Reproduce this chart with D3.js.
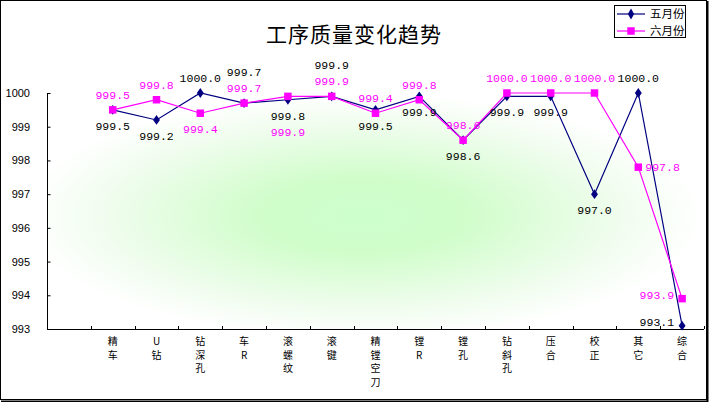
<!DOCTYPE html>
<html>
<head>
<meta charset="utf-8">
<script src="https://cdn.jsdelivr.net/npm/d3@7"></script>
<style>
  body { margin: 0; background: #fff; }
  svg { display: block; }
</style>
</head>
<body>
<script>
// categories (first band is empty, as in the original)
const categories = ['', '精车', 'U钻', '钻深孔', '车R', '滚螺纹', '滚键', '精镗空刀', '镗R', '镗孔', '钻斜孔', '压合', '校正', '其它', '综合']
const mayValues = [null, 999.5, 999.2, 1000.0, 999.7, 999.8, 999.9, 999.5, 999.9, 998.6, 999.9, 999.9, 997.0, 1000.0, 993.1]
const juneValues = [null, 999.5, 999.8, 999.4, 999.7, 999.9, 999.9, 999.4, 999.8, 998.6, 1000.0, 1000.0, 1000.0, 997.8, 993.9]
const yTicks = [993, 994, 995, 996, 997, 998, 999, 1000]
const seriesNames = ['五月份', '六月份']

// where each data label sits relative to its point
const mayPlace = [null, 'b', 'b', 'a', 'a2', 'b', 'a2', 'b', 'b', 'b', 'b', 'b', 'b', 'a', 'l']
const junePlace = [null, 'a', 'a', 'b', 'a', 'b2', 'a', 'a', 'a', 'a', 'a', 'a', 'a', 'r', 'l']

const width = 709
const height = 402
const margin = { top: 93, right: 5, bottom: 73, left: 47 }
const navy = '#000080'
const pink = '#ff00ff'

const svg = d3.select('body').append('svg')
  .attr('width', width)
  .attr('height', height)

// outer frame
svg.append('rect')
  .attr('x', 0.5).attr('y', 0.5)
  .attr('width', 706).attr('height', 399)
  .attr('fill', '#fff').attr('stroke', '#000')
svg.append('path')
  .attr('d', 'M707.5,1V401.5H1')
  .attr('fill', 'none').attr('stroke', '#000').attr('stroke-width', 2)

//scales
let xScale = d3.scaleBand()
  .domain(categories.map((d, i) => i))
  .range([margin.left, width - margin.right])
let yScale = d3.scaleLinear()
  .domain([993, 1000])
  .range([height - margin.bottom, margin.top])

// green center glow
let defs = svg.append('defs')
let grad = defs.append('radialGradient')
  .attr('id', 'glow')
  .attr('cx', '0.48').attr('cy', '0.52').attr('r', '0.52')
grad.append('stop').attr('offset', '0').attr('stop-color', '#ccffcc')
grad.append('stop').attr('offset', '0.3').attr('stop-color', '#d0fdca')
grad.append('stop').attr('offset', '0.75').attr('stop-color', '#f0fdee')
grad.append('stop').attr('offset', '1').attr('stop-color', '#ffffff')

svg.append('rect')
  .attr('x', margin.left)
  .attr('y', margin.top)
  .attr('width', width - margin.right - margin.left)
  .attr('height', height - margin.bottom - margin.top)
  .attr('fill', 'url(#glow)')

// axes
let yAxis = d3.axisLeft(yScale)
  .tickValues(yTicks)
  .tickSize(-3)
  .tickPadding(17)
  .tickFormat(d3.format('d'))
let gy = svg.append('g')
  .attr('transform', `translate(${margin.left},0)`)
  .call(yAxis)
gy.select('.domain').attr('d', `M0.5,${yScale(1000)}V${yScale(993)}`).attr('stroke', '#000')
gy.selectAll('.tick line').attr('stroke', '#000').attr('transform', 'translate(0.5,0)')
gy.selectAll('.tick text')
  .attr('font-family', 'Liberation Sans, Arial, sans-serif')
  .attr('font-size', 11)
  .attr('fill', '#000')

let tickPositions = categories.map((d, i) => xScale(i)).concat([width - margin.right])
let gx = svg.append('g')
gx.append('line')
  .attr('x1', margin.left).attr('x2', width - margin.right)
  .attr('y1', yScale(993) + 0.5).attr('y2', yScale(993) + 0.5)
  .attr('stroke', '#000')
gx.selectAll('line.tk')
  .data(tickPositions.slice(1))
  .enter()
  .append('line')
  .attr('class', 'tk')
  .attr('x1', d => Math.round(d) + 0.5).attr('x2', d => Math.round(d) + 0.5)
  .attr('y1', yScale(993) - 3).attr('y2', yScale(993))
  .attr('stroke', '#000')

// vertical category labels, one character per line
let catLabels = gx.selectAll('text.cat')
  .data(categories.map((d, i) => ({ name: d, i })).filter(d => d.name))
  .enter()
  .append('text')
  .attr('class', 'cat')
  .attr('font-family', 'Noto Sans CJK SC, sans-serif')
  .attr('font-size', 10)
  .attr('text-anchor', 'middle')
catLabels.selectAll('tspan')
  .data(d => Array.from(d.name).map(ch => ({ ch, i: d.i })))
  .enter()
  .append('tspan')
  .attr('x', d => xScale(d.i) + xScale.bandwidth() / 2)
  .attr('y', (d, k) => yScale(993) + 16 + k * 13.5)
  .text(d => d.ch)

// lines and markers
function drawSeries(values, color, shape) {
  let pts = values.map((v, i) => ({ v, i })).filter(d => d.v !== null)
  let line = d3.line()
    .x(d => xScale(d.i) + xScale.bandwidth() / 2)
    .y(d => yScale(d.v))
  let g = svg.append('g')
  g.append('path')
    .datum(pts)
    .attr('d', line)
    .attr('fill', 'none')
    .attr('stroke', color)
    .attr('stroke-width', 1.2)
  g.selectAll('path.mk')
    .data(pts)
    .enter()
    .append('path')
    .attr('class', 'mk')
    .attr('d', d3.symbol().type(shape).size(shape === d3.symbolSquare ? 56 : 34))
    .attr('transform', d => {
      let x = xScale(d.i) + xScale.bandwidth() / 2
      let y = yScale(d.v)
      return shape === d3.symbolDiamond ? `translate(${x},${y}) scale(1.1,0.9)` : `translate(${x},${y})`
    })
    .attr('fill', color)
  return pts
}

function drawLabels(pts, places, color) {
  let off = {
    a: { dx: 0, dy: -11, anchor: 'middle' },
    a2: { dx: 0, dy: -27, anchor: 'middle' },
    b: { dx: 0, dy: 20, anchor: 'middle' },
    b2: { dx: 0, dy: 40, anchor: 'middle' },
    r: { dx: 7, dy: 4, anchor: 'start' },
    l: { dx: -8, dy: 0, anchor: 'end' }
  }
  svg.append('g')
    .selectAll('text')
    .data(pts)
    .enter()
    .append('text')
    .attr('x', d => xScale(d.i) + xScale.bandwidth() / 2 + off[places[d.i]].dx)
    .attr('y', d => yScale(d.v) + off[places[d.i]].dy)
    .attr('text-anchor', d => off[places[d.i]].anchor)
    .attr('font-family', 'Liberation Mono, DejaVu Sans Mono, monospace')
    .attr('font-size', 11.5)
    .attr('fill', color)
    .text(d => d3.format('.1f')(d.v))
}

let mayPts = drawSeries(mayValues, navy, d3.symbolDiamond)
let junePts = drawSeries(juneValues, pink, d3.symbolSquare)
drawLabels(junePts, junePlace, pink)
drawLabels(mayPts, mayPlace, '#000')

// title
svg.append('text')
  .attr('x', 354)
  .attr('y', 42)
  .attr('text-anchor', 'middle')
  .attr('font-family', 'Noto Sans CJK SC, sans-serif')
  .attr('font-size', 21)
  .attr('letter-spacing', 1)
  .text('工序质量变化趋势')

// legend
let legend = svg.append('g')
legend.append('rect')
  .attr('x', 614.5).attr('y', 5.5)
  .attr('width', 71).attr('height', 32)
  .attr('fill', '#fff').attr('stroke', '#000')
let legendRows = [
  { name: seriesNames[0], color: navy, shape: d3.symbolDiamond, size: 34 },
  { name: seriesNames[1], color: pink, shape: d3.symbolSquare, size: 56 }
]
let row = legend.selectAll('g.row')
  .data(legendRows)
  .enter()
  .append('g')
  .attr('transform', (d, i) => `translate(617,${14 + i * 17})`)
row.append('line')
  .attr('x1', 0).attr('x2', 28)
  .attr('stroke', d => d.color).attr('stroke-width', 1.2)
row.append('path')
  .attr('d', d => d3.symbol().type(d.shape).size(d.size)())
  .attr('transform', 'translate(14,0)')
  .attr('fill', d => d.color)
row.append('text')
  .attr('x', 33)
  .attr('y', 4)
  .attr('font-family', 'Noto Sans CJK SC, sans-serif')
  .attr('font-size', 11.5)
  .text(d => d.name)
</script>
</body>
</html>
